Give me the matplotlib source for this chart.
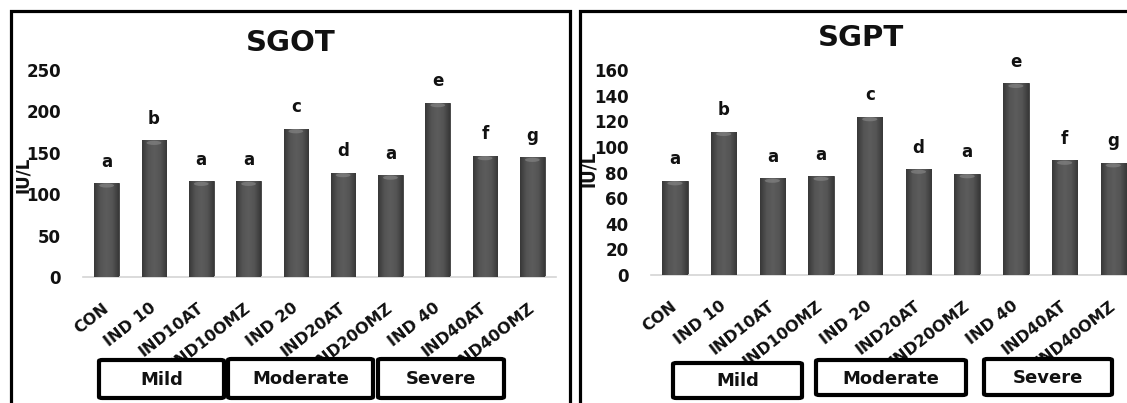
import matplotlib
matplotlib.use("Agg")
import matplotlib.pyplot as plt
import numpy as np
from matplotlib.patches import Rectangle, FancyBboxPatch, Ellipse
from matplotlib.colors import LinearSegmentedColormap

groups = ["CON", "IND 10", "IND10AT", "IND10OMZ", "IND 20", "IND20AT",
          "IND20OMZ", "IND 40", "IND40AT", "IND40OMZ"]
sgot = [113.5, 165, 115.5, 115.5, 179, 126, 123, 210.5, 146.5, 144.5]
sgpt = [73.5, 112, 75.5, 77, 123.5, 82.5, 79, 149.5, 89.5, 87.5]
letters = ["a", "b", "a", "a", "c", "d", "a", "e", "f", "g"]
severity = ["Mild", "Moderate", "Severe"]

W, H = 1127, 403
fig = plt.figure(figsize=(W / 100, H / 100), dpi=100)
plt.rcParams['font.family'] = ['DejaVu Sans']

def fx(x):
    return x / W

def fy(y):
    return 1 - y / H

cmap = LinearSegmentedColormap.from_list("bar", ["#383838", "#545454", "#5c5c5c", "#545454", "#383838"])

def panel(rect, values, ymax, ystep, title, title_xy, ylabel_xy, boxes):
    ax = fig.add_axes(rect)
    x = np.arange(len(groups))
    bars = ax.bar(x, values, width=0.52, color="#4e4e4e", edgecolor="#3c3c3c",
                  linewidth=0.6, zorder=2)
    ax.set_xlim(-0.5, 9.5)
    ax.set_ylim(0, ymax)
    grad = np.linspace(0, 1, 64).reshape(1, -1)
    for b in bars:
        bx, bw, bh = b.get_x(), b.get_width(), b.get_height()
        im = ax.imshow(grad, extent=[bx, bx + bw, 0, bh], aspect="auto",
                       cmap=cmap, zorder=3, origin="lower")
        im.set_clip_path(b)
        ax.add_patch(Ellipse((bx + bw / 2, bh - ymax * 0.012),
                     bw * 0.6, ymax * 0.02, color="#8a8a8a", alpha=0.6,
                     zorder=4, lw=0))
    for xi, v, l in zip(x, values, letters):
        ax.annotate(l, (xi, v), xytext=(0, 9), textcoords="offset points",
                    ha="center", va="bottom", fontsize=12, fontweight="bold",
                    color="#111111")
    ax.set_yticks(np.arange(0, ymax + 1, ystep))
    ax.set_yticklabels([str(int(t)) for t in np.arange(0, ymax + 1, ystep)],
                       fontsize=12, fontweight="bold", color="#111111")
    ax.set_xticks(x)
    ax.set_xticklabels(groups, rotation=38, ha="right", va="center",
                       rotation_mode="anchor", fontsize=11.5, fontweight="bold",
                       color="#111111")
    ax.tick_params(axis="y", length=0, pad=16)
    ax.tick_params(axis="x", length=0, pad=21)
    for s in ["top", "right", "left"]:
        ax.spines[s].set_visible(False)
    ax.spines["bottom"].set_color("#d4d4d4")
    ax.spines["bottom"].set_linewidth(1.2)
    ax.set_facecolor("none")
    fig.text(fx(title_xy[0]), fy(title_xy[1]), title, ha="center", va="center",
             fontsize=21, fontweight="bold", color="#111111")
    fig.text(fx(ylabel_xy[0]), fy(ylabel_xy[1]), "IU/L", ha="center", va="center",
             rotation=90, fontsize=12, fontweight="bold", color="#111111")
    for (x0, y0, x1, y1), lab in zip(boxes, severity):
        p = FancyBboxPatch((fx(x0), fy(y1)), fx(x1 - x0), (y1 - y0) / H,
                           boxstyle="round,pad=0,rounding_size=0.003",
                           transform=fig.transFigure, facecolor="white",
                           edgecolor="black", linewidth=3.0, zorder=10)
        fig.add_artist(p)
        fig.text(fx((x0 + x1) / 2), fy((y0 + y1) / 2 + 1), lab, ha="center",
                 va="center", fontsize=13, fontweight="bold", color="#111111",
                 zorder=11)
    return ax

fig.add_artist(Rectangle((fx(11), fy(420)), fx(570 - 11), (420 - 11.5) / H,
                         transform=fig.transFigure, fill=False, edgecolor="black",
                         linewidth=2.3, zorder=20))
fig.add_artist(Rectangle((fx(580), fy(420)), fx(1200 - 580), (420 - 11.5) / H,
                         transform=fig.transFigure, fill=False, edgecolor="black",
                         linewidth=2.3, zorder=20))

panel([fx(83), fy(277), fx(556 - 83), (277 - 70) / H], sgot, 250, 50, "SGOT",
      (291, 43), (23, 175),
      [(99, 360, 224, 398), (228, 359, 373, 398), (378, 359, 504, 398)])
panel([fx(650.6), fy(275), fx(487), (275 - 70) / H], sgpt, 160, 20, "SGPT",
      (861, 38), (589, 169),
      [(673, 363, 802, 398), (816, 360, 966, 395), (984, 359, 1112, 395)])

fig.savefig("out.png", dpi=100)
